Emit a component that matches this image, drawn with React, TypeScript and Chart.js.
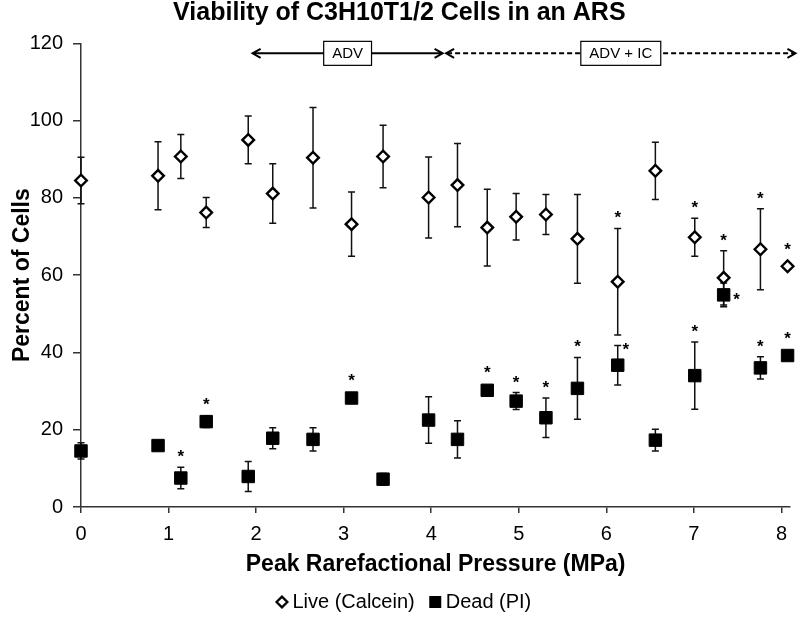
import React, { useEffect, useRef } from 'react';
import { Chart, registerables } from 'chart.js';

Chart.register(...registerables);

// ---- data ----
const pressures = [0, 0.88, 1.14, 1.43, 1.91, 2.19, 2.65, 3.09, 3.45, 3.97, 4.3, 4.64, 4.97, 5.31, 5.67, 6.13, 6.56, 7.01, 7.34, 7.76, 8.07];
const liveValues = [84.5, 85.7, 90.7, 76.2, 95.0, 81.1, 90.4, 73.2, 90.7, 80.1, 83.3, 72.3, 75.1, 75.7, 69.4, 58.3, 87.0, 69.8, 59.3, 66.7, 62.3];
const liveErrors = [6.0, 8.8, 5.7, 3.9, 6.2, 7.7, 13.0, 8.3, 8.1, 10.5, 10.8, 9.9, 6.0, 5.2, 11.5, 13.8, 7.4, 4.9, 7.0, 10.5, 0];
const deadValues = [14.5, 15.9, 7.5, 22.1, 7.9, 17.8, 17.5, 28.2, 7.2, 22.5, 17.5, 30.2, 27.4, 23.1, 30.7, 36.7, 17.3, 34.0, 54.9, 36.0, 39.2];
const deadErrors = [2.1, 0, 2.8, 1.5, 3.9, 2.7, 3.0, 1.2, 1.5, 6.0, 4.8, 0, 2.2, 5.1, 8.0, 5.1, 2.8, 8.7, 3.1, 2.9, 0];
// significance markers: 'a' above, 'r' right of error-bar top, 'R' right of marker
const liveStars = ['', '', '', '', '', '', '', '', '', '', '', '', '', '', '', 'a', '', 'a', 'a', 'a', 'a'];
const deadStars = ['', '', 'a', 'a', '', '', '', 'a', '', '', '', 'a', 'a', 'a', 'a', 'r', '', 'a', 'R', 'a', 'a'];
const seriesLabels = ['Live (Calcein)', 'Dead (PI)'];

const regimeLabels = ['ADV', 'ADV + IC'];
const regimeFrom = [1.96, 4.17];
const regimeTo = [4.13, 8.16];
const regimeDashed = [false, true];
const regimeLevel = 117.4;

const xMin = 0;
const xMax = 8.1;
const xTicks = [0, 1, 2, 3, 4, 5, 6, 7, 8];
const yMin = 0;
const yMax = 120;
const yStep = 20;

const titleText = 'Viability of C3H10T1/2 Cells in an ARS';
const xTitle = 'Peak Rarefactional Pressure (MPa)';
const yTitle = 'Percent of Cells';

const FONT = 'Arial, "Liberation Sans", Helvetica, sans-serif';

function makeIcon(kind: string): HTMLCanvasElement {
  const c = document.createElement('canvas');
  c.width = 14;
  c.height = 14;
  const g = c.getContext('2d')!;
  if (kind === 'diamond') {
    g.beginPath();
    g.moveTo(7, 1.6);
    g.lineTo(12.4, 7);
    g.lineTo(7, 12.4);
    g.lineTo(1.6, 7);
    g.closePath();
    g.fillStyle = '#fff';
    g.fill();
    g.lineWidth = 2.3;
    g.strokeStyle = '#000';
    g.stroke();
  } else {
    g.fillStyle = '#000';
    g.fillRect(1, 1, 12, 12);
  }
  return c;
}

const errorSets = [liveErrors, deadErrors];
const starSets = [liveStars, deadStars];
const markerHalf = [6.5, 7];

const errorBarPlugin = {
  id: 'errorBars',
  beforeDatasetsDraw(chart: any) {
    const { ctx, scales } = chart;
    const xs = scales.x;
    const ys = scales.y;
    ctx.save();
    ctx.strokeStyle = '#111';
    ctx.lineWidth = 1.5;
    chart.data.datasets.forEach((ds: any, di: number) => {
      const errs = errorSets[di];
      ds.data.forEach((pt: any, i: number) => {
        const e = errs[i];
        if (!e) return;
        const px = xs.getPixelForValue(pt.x);
        const t = ys.getPixelForValue(pt.y + e);
        const b = ys.getPixelForValue(pt.y - e);
        ctx.beginPath();
        ctx.moveTo(px, t);
        ctx.lineTo(px, b);
        ctx.moveTo(px - 3.5, t);
        ctx.lineTo(px + 3.5, t);
        ctx.moveTo(px - 3.5, b);
        ctx.lineTo(px + 3.5, b);
        ctx.stroke();
      });
    });
    ctx.restore();
  },
  afterDatasetsDraw(chart: any) {
    const { ctx, scales } = chart;
    const xs = scales.x;
    const ys = scales.y;
    ctx.save();
    ctx.fillStyle = '#000';
    ctx.font = `bold 17px ${FONT}`;
    ctx.textAlign = 'center';
    ctx.textBaseline = 'alphabetic';
    chart.data.datasets.forEach((ds: any, di: number) => {
      const stars = starSets[di];
      const errs = errorSets[di];
      ds.data.forEach((pt: any, i: number) => {
        const s = stars[i];
        if (!s) return;
        const px = xs.getPixelForValue(pt.x);
        const py = ys.getPixelForValue(pt.y);
        const top = ys.getPixelForValue(pt.y + (errs[i] || 0));
        let sx = px;
        let sy = py;
        if (s === 'a') {
          sy = Math.min(top, py - markerHalf[di]) - 15;
        } else if (s === 'r') {
          sx = px + 8;
          sy = top;
        } else {
          sx = px + 13;
          sy = py;
        }
        ctx.fillText('*', sx, sy + 10);
      });
    });
    ctx.restore();
  },
  afterDraw(chart: any) {
    const { ctx, scales } = chart;
    const xs = scales.x;
    const ys = scales.y;
    const y = ys.getPixelForValue(regimeLevel);
    ctx.save();
    regimeLabels.forEach((label, i) => {
      const x1 = xs.getPixelForValue(regimeFrom[i]);
      const x2 = xs.getPixelForValue(regimeTo[i]);
      ctx.strokeStyle = '#000';
      ctx.lineWidth = 2;
      ctx.setLineDash(regimeDashed[i] ? [5, 3] : []);
      ctx.beginPath();
      ctx.moveTo(x1 + 1, y);
      ctx.lineTo(x2 - 1, y);
      ctx.stroke();
      ctx.setLineDash([]);
      ctx.beginPath();
      ctx.moveTo(x1 + 8, y - 4.5);
      ctx.lineTo(x1, y);
      ctx.lineTo(x1 + 8, y + 4.5);
      ctx.moveTo(x2 - 8, y - 4.5);
      ctx.lineTo(x2, y);
      ctx.lineTo(x2 - 8, y + 4.5);
      ctx.stroke();
      // label box
      ctx.font = `15px ${FONT}`;
      const tw = ctx.measureText(label).width;
      const cx = (x1 + x2) / 2;
      const bw = tw + 17;
      const bh = 24;
      ctx.fillStyle = '#fff';
      ctx.fillRect(cx - bw / 2, y - bh / 2, bw, bh);
      ctx.lineWidth = 1.2;
      ctx.strokeStyle = '#000';
      ctx.strokeRect(cx - bw / 2, y - bh / 2, bw, bh);
      ctx.fillStyle = '#000';
      ctx.textAlign = 'center';
      ctx.textBaseline = 'middle';
      ctx.fillText(label, cx, y + 1);
    });
    ctx.restore();
  },
  afterLayout(chart: any) {
    if (chart.legend) {
      chart.legend.left += 7;
      chart.legend.right += 7;
    }
  },
};

export default function App() {
  const canvasRef = useRef<HTMLCanvasElement | null>(null);

  useEffect(() => {
    document.body.style.margin = '0';
    const canvas = canvasRef.current;
    if (!canvas) return;
    const icons = [makeIcon('diamond'), makeIcon('square')];

    const chart = new Chart(canvas, {
      type: 'scatter',
      data: {
        datasets: [
          {
            label: seriesLabels[0],
            data: pressures.map((p, i) => ({ x: p, y: liveValues[i] })),
            pointStyle: 'rectRot',
            pointRadius: 5.8,
            pointHoverRadius: 5.8,
            borderWidth: 2.4,
            pointBorderWidth: 2.4,
            backgroundColor: '#fff',
            borderColor: '#000',
            clip: false,
          },
          {
            label: seriesLabels[1],
            data: pressures.map((p, i) => ({ x: p, y: deadValues[i] })),
            pointStyle: 'rect',
            pointRadius: 8.8,
            pointHoverRadius: 8.8,
            borderWidth: 1,
            pointBorderWidth: 1,
            backgroundColor: '#000',
            borderColor: '#000',
            clip: false,
          },
        ],
      },
      options: {
        responsive: false,
        animation: false,
        devicePixelRatio: 1,
        layout: { padding: { left: 8, right: 9.3, top: 0, bottom: -2 } },
        plugins: {
          tooltip: { enabled: false },
          title: {
            display: true,
            text: titleText,
            color: '#000',
            font: { family: FONT, size: 25, weight: 'bold' },
            padding: { top: -1.5, bottom: 14.8 },
          },
          legend: {
            display: true,
            position: 'bottom',
            labels: {
              usePointStyle: true,
              boxWidth: 1,
              boxHeight: 12,
              padding: 20,
              color: '#000',
              font: { family: FONT, size: 20 },
              generateLabels: (c: any) =>
                c.data.datasets.map((ds: any, i: number) => ({
                  text: ds.label,
                  pointStyle: icons[i],
                  fillStyle: '#000',
                  strokeStyle: '#000',
                  lineWidth: 0,
                  hidden: false,
                  datasetIndex: i,
                  fontColor: '#000',
                })),
            },
          },
        },
        scales: {
          x: {
            type: 'linear',
            min: xMin,
            max: xMax,
            afterBuildTicks: (s: any) => {
              s.ticks = xTicks.map((v) => ({ value: v }));
            },
            afterFit: (s: any) => {
              s.height = 65;
            },
            ticks: {
              autoSkip: false,
              color: '#000',
              padding: 9,
              font: { family: FONT, size: 20 },
            },
            grid: {
              drawOnChartArea: false,
              drawTicks: true,
              tickLength: 6,
              color: '#333',
              lineWidth: 1.5,
            },
            border: { display: true, color: '#333', width: 1.5 },
            title: {
              display: true,
              text: xTitle,
              color: '#000',
              font: { family: FONT, size: 23, weight: 'bold' },
              padding: { top: 0, bottom: -6.8 },
            },
          },
          y: {
            type: 'linear',
            min: yMin,
            max: yMax,
            afterFit: (s: any) => {
              s.width = 73;
            },
            ticks: {
              stepSize: yStep,
              color: '#000',
              padding: 10,
              font: { family: FONT, size: 20 },
            },
            grid: {
              drawOnChartArea: false,
              drawTicks: true,
              tickLength: 8,
              color: '#333',
              lineWidth: 1.5,
            },
            border: { display: true, color: '#333', width: 1.5 },
            title: {
              display: true,
              text: yTitle,
              color: '#000',
              font: { family: FONT, size: 23, weight: 'bold' },
              padding: { top: 1.2, bottom: 0 },
            },
          },
        },
      },
      plugins: [errorBarPlugin],
    } as any);

    return () => {
      chart.destroy();
    };
  }, []);

  return (
    <div style={{ width: 800, height: 620 }}>
      <canvas ref={canvasRef} width={800} height={620} style={{ display: 'block' }} />
    </div>
  );
}
